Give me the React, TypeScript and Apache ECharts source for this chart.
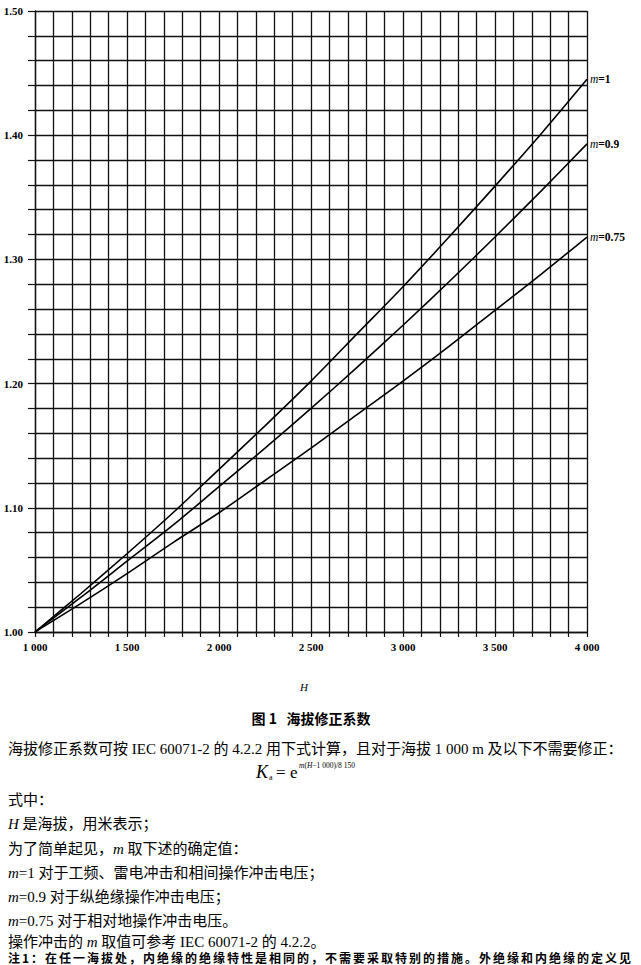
import React, { useEffect, useRef } from "react";
import * as echarts from "echarts";

const altitudes = [1000, 1250, 1500, 1750, 2000, 2250, 2500, 2750, 3000, 3250, 3500, 3750, 4000];
const kM1 = [1.0, 1.031, 1.063, 1.096, 1.131, 1.166, 1.202, 1.24, 1.278, 1.318, 1.359, 1.401, 1.445];
const kM09 = [1.0, 1.028, 1.057, 1.086, 1.117, 1.148, 1.18, 1.213, 1.247, 1.282, 1.318, 1.355, 1.393];
const kM075 = [1.0, 1.023, 1.047, 1.072, 1.096, 1.122, 1.148, 1.175, 1.202, 1.23, 1.259, 1.288, 1.318];
const seriesLabels = ["1", "0.9", "0.75"];

const caption = "图 1   海拔修正系数";
const bodyLines = [
  "海拔修正系数可按 IEC 60071-2 的 4.2.2 用下式计算，且对于海拔 1 000 m 及以下不需要修正：",
  "式中：",
  "{i|H} 是海拔，用米表示；",
  "为了简单起见，{i|m} 取下述的确定值：",
  "{i|m}=1 对于工频、雷电冲击和相间操作冲击电压；",
  "{i|m}=0.9 对于纵绝缘操作冲击电压；",
  "{i|m}=0.75 对于相对地操作冲击电压。",
  "操作冲击的 {i|m} 取值可参考 IEC 60071-2 的 4.2.2。",
];
const noteLine = "注1：在任一海拔处，内绝缘的绝缘特性是相同的，不需要采取特别的措施。外绝缘和内绝缘的定义见";

const SERIF = "'Liberation Serif', 'Noto Sans CJK SC', serif";
const CJK = "'Liberation Serif', 'Noto Sans CJK SC', sans-serif";

function fmtThousands(v: number): string {
  const s = String(Math.round(v));
  return s.length > 3 ? s.slice(0, s.length - 3) + " " + s.slice(-3) : s;
}

export default function App() {
  const ref = useRef<HTMLDivElement>(null);
  useEffect(() => {
    document.body.style.margin = "0";
    if (!ref.current) return;
    const chart = echarts.init(ref.current, undefined, { renderer: "svg" });
    const datasets = [kM1, kM09, kM075];
    const lineY = [749, 800, 824, 849, 873, 897, 921, 942];
    const graphics: any[] = [
      {
        type: "text",
        x: 304,
        y: 687,
        style: { text: "H", fontFamily: SERIF, fontStyle: "italic", fontSize: 11, fill: "#000", align: "center", verticalAlign: "middle" },
      },
      {
        type: "text",
        x: 311,
        y: 718,
        style: { text: caption, fontFamily: "'Noto Sans CJK SC', sans-serif", fontWeight: "bold", fontSize: 14, fill: "#000", align: "center", verticalAlign: "middle" },
      },
      {
        type: "text",
        x: 256,
        y: 772,
        style: { text: "K", fontFamily: SERIF, fontStyle: "italic", fontSize: 18, fill: "#000", align: "left", verticalAlign: "middle" },
      },
      {
        type: "text",
        x: 269,
        y: 777,
        style: { text: "a", fontFamily: SERIF, fontSize: 8, fill: "#000", align: "left", verticalAlign: "middle" },
      },
      {
        type: "text",
        x: 276,
        y: 772,
        style: { text: "=", fontFamily: SERIF, fontSize: 17, fill: "#000", align: "left", verticalAlign: "middle" },
      },
      {
        type: "text",
        x: 290,
        y: 772,
        style: { text: "e", fontFamily: SERIF, fontSize: 17, fill: "#000", align: "left", verticalAlign: "middle" },
      },
      {
        type: "text",
        x: 299,
        y: 765,
        style: {
          text: "{i|m}({i|H}−1 000)/8 150",
          fontFamily: SERIF,
          fontSize: 7.5,
          fill: "#000",
          align: "left",
          verticalAlign: "middle",
          rich: { i: { fontFamily: SERIF, fontStyle: "italic", fontSize: 7.5, fill: "#000" } },
        },
      },
      {
        type: "text",
        x: 8,
        y: 957,
        style: { text: noteLine, fontFamily: "'Noto Sans CJK SC', sans-serif", fontWeight: "bold", fontSize: 12, fill: "#000", align: "left", verticalAlign: "middle" },
      },
    ];
    bodyLines.forEach((t, i) => {
      graphics.push({
        type: "text",
        x: 8,
        y: lineY[i],
        style: {
          text: t,
          fontFamily: CJK,
          fontSize: 15,
          fill: "#000",
          align: "left",
          verticalAlign: "middle",
          rich: { i: { fontFamily: SERIF, fontStyle: "italic", fontSize: 15, fill: "#000" } },
        },
      });
    });

    chart.setOption({
      animation: false,
      backgroundColor: "#fff",
      grid: { left: 35, right: 54, top: 11, bottom: 333, containLabel: false },
      xAxis: {
        type: "value",
        min: 1000,
        max: 4000,
        interval: 100,
        axisLine: { show: true, lineStyle: { color: "#111", width: 1.3 } },
        axisTick: {
          show: true,
          length: 5,
          interval: (idx: number, v: any) => Number(v) % 500 === 0,
          lineStyle: { color: "#111", width: 1.2 },
        },
        axisLabel: {
          margin: 9,
          fontFamily: SERIF,
          fontSize: 11,
          fontWeight: "bold",
          color: "#000",
          formatter: (v: number) => (Math.round(v) % 500 === 0 ? fmtThousands(v) : ""),
        },
        splitLine: { show: true, lineStyle: { color: "#111", width: 1.3 } },
      },
      yAxis: {
        type: "value",
        min: 1.0,
        max: 1.5,
        interval: 0.02,
        axisLine: { show: true, lineStyle: { color: "#111", width: 1.3 } },
        axisTick: {
          show: true,
          length: 7,
          interval: (idx: number, v: any) => Math.round(Number(v) * 100) % 10 === 0,
          lineStyle: { color: "#111", width: 1.2 },
        },
        axisLabel: {
          margin: 12,
          fontFamily: SERIF,
          fontSize: 11,
          fontWeight: "bold",
          color: "#000",
          formatter: (v: number) => (Math.round(v * 100) % 10 === 0 ? v.toFixed(2) : ""),
        },
        splitLine: { show: true, lineStyle: { color: "#111", width: 1.3 } },
      },
      series: datasets.map((d, si) => ({
        type: "line",
        data: altitudes.map((h, i) => [h, d[i]]),
        smooth: 0.3,
        showSymbol: false,
        symbol: "none",
        lineStyle: { color: "#000", width: 1.6 },
        endLabel: {
          show: true,
          distance: 3,
          formatter: "{i|m}{n|=" + seriesLabels[si] + "}",
          rich: {
            i: { fontFamily: SERIF, fontStyle: "italic", fontSize: 11.5, color: "#000" },
            n: { fontFamily: SERIF, fontSize: 11.5, fontWeight: "bold", color: "#000" },
          },
        },
      })),
      graphic: graphics,
    });

    const spaceNote = () => {
      const el = ref.current;
      if (!el) return;
      el.querySelectorAll("text").forEach((t) => {
        if (t.textContent === noteLine) t.setAttribute("letter-spacing", "2px");
      });
    };
    spaceNote();
    chart.on("finished", spaceNote);
    const raf = requestAnimationFrame(spaceNote);
    return () => {
      cancelAnimationFrame(raf);
      chart.dispose();
    };
  }, []);
  return <div ref={ref} style={{ width: 641, height: 965 }} />;
}
